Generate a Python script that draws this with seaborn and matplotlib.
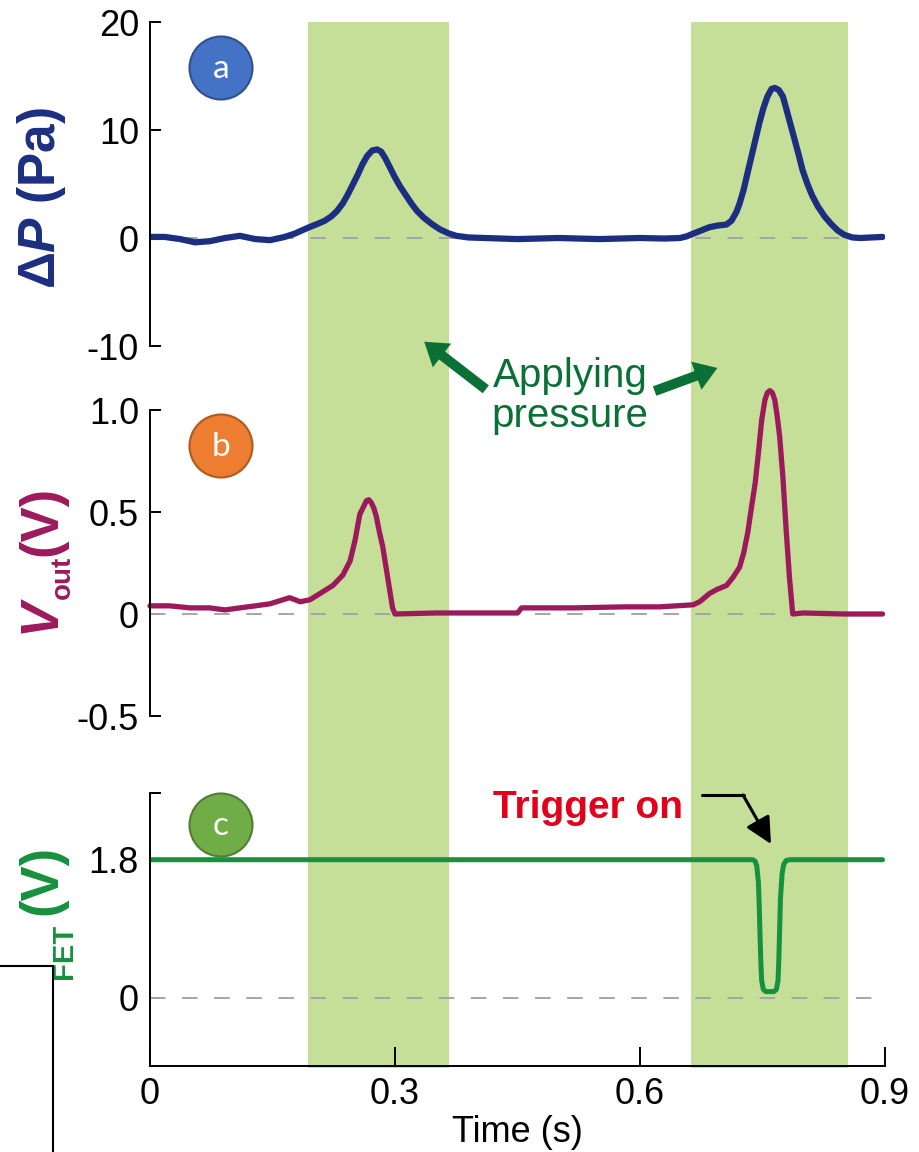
import matplotlib.pyplot as plt
import seaborn as sns
import pandas as pd
from matplotlib.patches import Ellipse, Rectangle, FancyArrowPatch
from matplotlib.lines import Line2D

sns.set_theme(style="ticks")
plt.rcParams['font.family'] = ['Liberation Sans', 'DejaVu Sans']
plt.rcParams['axes.unicode_minus'] = False
plt.rcParams['mathtext.fontset'] = 'custom'
plt.rcParams['mathtext.rm'] = 'Liberation Sans:bold'
plt.rcParams['mathtext.it'] = 'Liberation Sans:italic:bold'
plt.rcParams['mathtext.bf'] = 'Liberation Sans:bold'

# ---- data ----
# panel a: pressure difference (Pa)
t_p = [0.000, 0.018, 0.037, 0.055, 0.073, 0.092, 0.110, 0.129, 0.147, 0.165,
       0.177, 0.186, 0.195, 0.205, 0.214, 0.222, 0.229, 0.236, 0.242, 0.248,
       0.254, 0.260, 0.266, 0.272, 0.278, 0.283, 0.288, 0.294, 0.300, 0.306,
       0.313, 0.320, 0.327, 0.335, 0.345, 0.355, 0.365, 0.375, 0.390, 0.410,
       0.450, 0.500, 0.550, 0.600, 0.630, 0.649, 0.657, 0.665, 0.675, 0.685,
       0.695, 0.706, 0.712, 0.718, 0.722, 0.727, 0.731, 0.736, 0.741, 0.746,
       0.751, 0.756, 0.761, 0.765, 0.770, 0.775, 0.779, 0.784, 0.789, 0.794,
       0.799, 0.805, 0.811, 0.818, 0.826, 0.834, 0.842, 0.850, 0.860, 0.870,
       0.897]
dp = [0.1, 0.1, -0.1, -0.4, -0.3, 0.0, 0.2, -0.1, -0.2, 0.1,
      0.4, 0.7, 1.0, 1.3, 1.6, 2.0, 2.5, 3.2, 4.0, 4.9,
      5.8, 6.8, 7.6, 8.1, 8.2, 8.0, 7.4, 6.5, 5.6, 4.8,
      4.0, 3.2, 2.5, 1.9, 1.3, 0.8, 0.45, 0.2, 0.05, 0.0,
      -0.1, 0.0, -0.1, 0.0, -0.05, 0.0, 0.15, 0.4, 0.7, 1.0,
      1.15, 1.25, 1.6, 2.4, 3.2, 4.5, 5.8, 7.4, 9.0, 10.6,
      12.0, 13.1, 13.8, 13.9, 13.7, 13.1, 12.0, 10.6, 9.2, 7.8,
      6.3, 5.0, 3.9, 2.9, 2.0, 1.3, 0.7, 0.3, 0.05, 0.0,
      0.1]

# panel b: output voltage (V)
t_out = [0.000, 0.024, 0.049, 0.073, 0.092, 0.110, 0.129, 0.147, 0.171, 0.184,
         0.196, 0.208, 0.224, 0.236, 0.245, 0.251, 0.257, 0.262, 0.265, 0.268,
         0.271, 0.274, 0.277, 0.281, 0.285, 0.291, 0.297, 0.300, 0.350, 0.450,
         0.455, 0.520, 0.580, 0.624, 0.665, 0.673, 0.685, 0.694, 0.706, 0.714,
         0.722, 0.727, 0.732, 0.736, 0.741, 0.745, 0.749, 0.753, 0.756, 0.759,
         0.762, 0.765, 0.768, 0.771, 0.775, 0.779, 0.783, 0.787, 0.800, 0.850,
         0.897]
v_out = [0.04, 0.04, 0.03, 0.03, 0.02, 0.03, 0.04, 0.05, 0.08, 0.06,
         0.07, 0.10, 0.14, 0.19, 0.26, 0.36, 0.49, 0.53, 0.555, 0.56,
         0.545, 0.52, 0.48, 0.40, 0.33, 0.18, 0.03, 0.00, 0.005, 0.005,
         0.03, 0.03, 0.035, 0.035, 0.045, 0.06, 0.10, 0.12, 0.14, 0.18,
         0.23, 0.30, 0.40, 0.51, 0.64, 0.79, 0.95, 1.05, 1.085, 1.095,
         1.085, 1.05, 0.97, 0.87, 0.67, 0.41, 0.18, 0.00, 0.005, 0.0,
         0.0]

# panel c: FET voltage (V)
t_fet = [0.000, 0.100, 0.200, 0.300, 0.400, 0.500, 0.600, 0.700, 0.738, 0.741,
         0.743, 0.745, 0.746, 0.747, 0.748, 0.749, 0.751, 0.754, 0.764, 0.767,
         0.769, 0.770, 0.771, 0.772, 0.774, 0.776, 0.779, 0.783, 0.897]
v_fet = [1.8, 1.8, 1.8, 1.8, 1.8, 1.8, 1.8, 1.8, 1.8, 1.78,
         1.72, 1.5, 1.2, 0.8, 0.45, 0.22, 0.11, 0.08, 0.08, 0.11,
         0.22, 0.5, 0.9, 1.3, 1.62, 1.74, 1.79, 1.8, 1.8]

press_bands = [(0.193, 0.366), (0.663, 0.855)]
x_ticks = [0, 0.3, 0.6, 0.9]
x_labels = ['0', '0.3', '0.6', '0.9']
a_ticks = [-10, 0, 10, 20]
b_ticks = [-0.5, 0, 0.5, 1.0]
b_labels = ['-0.5', '0', '0.5', '1.0']
c_ticks = [0, 1.8, 2.67]
c_labels = ['0', '1.8', '']

df_p = pd.DataFrame({'t': t_p, 'v': dp})
df_out = pd.DataFrame({'t': t_out, 'v': v_out})
df_fet = pd.DataFrame({'t': t_fet, 'v': v_fet})

navy = '#1c2e80'
magenta = '#9c1a5c'
green = '#16913f'
dkgreen = '#0b7035'
band_col = '#c5de98'

W, H = 920, 1152


def fx(px):
    return px / W


def fy(py):
    return 1 - py / H


def vlabel(px, py, s, size, color, style='normal'):
    # rotated label piece, anchored on its baseline
    fig.text(fx(px), fy(py), s, rotation=90, rotation_mode='anchor',
             ha='center', va='baseline', fontsize=size, color=color,
             fontweight='bold', fontstyle=style)


fig = plt.figure(figsize=(9.2, 11.52), dpi=100)

# shaded "applying pressure" bands behind all three panels
bg = fig.add_axes([fx(150), fy(1068), 735 / W, (1068 - 22) / H])
bg.set_xlim(0, 0.9)
for a, b in press_bands:
    bg.axvspan(a, b, color=band_col, lw=0)
bg.axis('off')

ax_a = fig.add_axes([fx(150), fy(346), 735 / W, (346 - 22) / H])
ax_b = fig.add_axes([fx(150), fy(716), 735 / W, (716 - 410) / H])
ax_c = fig.add_axes([fx(150), fy(1066), 735 / W, (1066 - 793) / H])

sns.lineplot(data=df_p, x='t', y='v', ax=ax_a, color=navy, lw=4.5,
             estimator=None, sort=False)
sns.lineplot(data=df_out, x='t', y='v', ax=ax_b, color=magenta, lw=3.8,
             estimator=None, sort=False)
sns.lineplot(data=df_fet, x='t', y='v', ax=ax_c, color=green, lw=3.6,
             estimator=None, sort=False)
ax_b.lines[-1].set_clip_on(False)
ax_b.lines[-1].set_solid_joinstyle('round')

for ax in (ax_a, ax_b, ax_c):
    ax.set_facecolor('none')
    ax.set_xlim(0, 0.9)
    ax.axhline(0, color='#a6a6a6', lw=1.4, ls=(0, (8, 8.5)), zorder=1)
    ax.set_xlabel('')
    ax.set_ylabel('')
    for s in ('top', 'right'):
        ax.spines[s].set_visible(False)
    ax.spines['left'].set_color('black')
    ax.spines['left'].set_linewidth(1.4)
    ax.tick_params(axis='y', direction='in', length=8, width=1.4,
                   color='black', labelsize=26, pad=8, labelcolor='black')

for ax in (ax_a, ax_b):
    ax.spines['bottom'].set_visible(False)
    ax.set_xticks([])

ax_a.set_ylim(-10, 20)
ax_a.set_yticks(a_ticks, [str(v) for v in a_ticks])
ax_b.set_ylim(-0.5, 1.0)
ax_b.set_yticks(b_ticks, b_labels)
ax_c.set_ylim(-0.89, 2.67)
ax_c.set_yticks(c_ticks, c_labels)

ax_c.spines['bottom'].set_color('black')
ax_c.spines['bottom'].set_linewidth(1.4)
ax_c.set_xticks(x_ticks, x_labels)
ax_c.tick_params(axis='x', direction='in', length=14, width=1.4,
                 color='black', labelsize=26, pad=8, labelcolor='black')
ax_c.set_xlabel('Time (s)', fontsize=26, labelpad=2, color='black')

# y labels
fig.text(fx(55), fy(198), 'Δ$\\mathit{P}$ (Pa)', rotation=90,
         rotation_mode='anchor', ha='center', va='baseline', fontsize=37,
         color=navy, fontweight='bold')
vlabel(55, 615, 'V', 38, magenta, 'italic')
vlabel(70, 577, 'out', 20, magenta)
vlabel(56, 521, '(V)', 38, magenta)
vlabel(50, 1008, 'V', 38, green, 'italic')
vlabel(72, 951, 'FET', 21, green)
vlabel(56, 880, '(V)', 38, green)

# panel badges
badges = [('a', 68, '#4472c4', '#2f528f'),
          ('b', 446, '#ed7d31', '#ae5a21'),
          ('c', 825, '#70ad47', '#507e32')]
for letter, py, fc, ec in badges:
    fig.add_artist(Ellipse((fx(221), fy(py)), 63 / W, 63 / H,
                           transform=fig.transFigure, facecolor=fc,
                           edgecolor=ec, lw=1.5))
    fig.text(fx(221), fy(py + 1), letter, ha='center', va='center',
             fontsize=24, color='white', family=['Lato', 'DejaVu Sans'])

# applying pressure annotation
fig.text(fx(570), fy(396), 'Applying\npressure', ha='center', va='center',
         fontsize=29, color=dkgreen, linespacing=1.05)
for (x0, y0), (x1, y1) in [((488, 391), (422, 340)), ((652, 392), (720, 367))]:
    fig.add_artist(FancyArrowPatch(
        (fx(x0), fy(y0)), (fx(x1), fy(y1)), transform=fig.transFigure,
        arrowstyle='simple,head_length=0.9,head_width=1.2,tail_width=0.4',
        mutation_scale=18, color=dkgreen, lw=0))

# trigger annotation
fig.text(fx(683), fy(808), 'Trigger on', ha='right', va='center',
         fontsize=28, color='#e2001a', fontweight='bold')
fig.add_artist(Line2D([fx(702), fx(744)], [fy(795), fy(795)],
                      transform=fig.transFigure, color='black', lw=2.2))
fig.add_artist(FancyArrowPatch(
    (fx(743), fy(795)), (fx(771), fy(844)), transform=fig.transFigure,
    arrowstyle='-|>,head_length=0.8,head_width=0.4', mutation_scale=20,
    color='black', lw=2.2, shrinkA=0, shrinkB=0))

# white box overlapping the bottom-left corner
fig.add_artist(Rectangle((-0.01, -0.01), fx(53) + 0.01, (1152 - 966) / H + 0.01,
                         transform=fig.transFigure, facecolor='white',
                         edgecolor='black', lw=1.5, zorder=10))

fig.savefig('out.png', dpi=100)
